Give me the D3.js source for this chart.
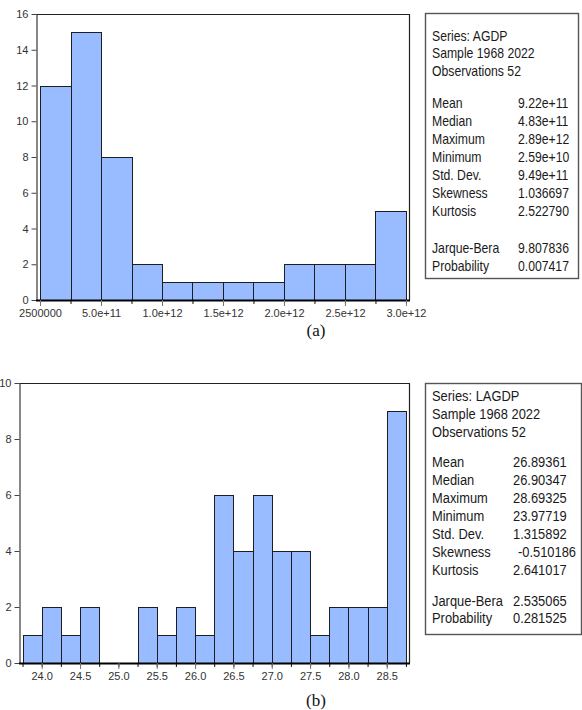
<!DOCTYPE html>
<html>
<head>
<meta charset="utf-8">
<script src="https://cdn.jsdelivr.net/npm/d3@7"></script>
<style>
  html, body { margin: 0; padding: 0; background: #fff; }
  svg { display: block; }
</style>
</head>
<body>
<svg id="chart" width="582" height="710"></svg>
<script>
// ---------- Panel (a): AGDP ----------
const aBinStarts = [0, 2.5e11, 5e11, 7.5e11, 1e12, 1.25e12, 1.5e12, 1.75e12, 2e12, 2.25e12, 2.5e12, 2.75e12];
const aBinWidth = 2.5e11;
const aCounts = [12, 15, 8, 2, 1, 1, 1, 1, 2, 2, 2, 5];
const aXTicks = [2500000, 5e11, 1e12, 1.5e12, 2e12, 2.5e12, 3e12];
const aXTickLabels = ["2500000", "5.0e+11", "1.0e+12", "1.5e+12", "2.0e+12", "2.5e+12", "3.0e+12"];
const aYTicks = [0, 2, 4, 6, 8, 10, 12, 14, 16];
const aHeader = ["Series: AGDP", "Sample 1968 2022", "Observations 52"];
const aStatLabels = ["Mean", "Median", "Maximum", "Minimum", "Std. Dev.", "Skewness", "Kurtosis"];
const aStatValues = ["9.22e+11", "4.83e+11", "2.89e+12", "2.59e+10", "9.49e+11", "1.036697", "2.522790"];
const aTestLabels = ["Jarque-Bera", "Probability"];
const aTestValues = ["9.807836", "0.007417"];

// ---------- Panel (b): LAGDP ----------
const bBinStarts = [23.75, 24.0, 24.25, 24.5, 24.75, 25.0, 25.25, 25.5, 25.75, 26.0,
                    26.25, 26.5, 26.75, 27.0, 27.25, 27.5, 27.75, 28.0, 28.25, 28.5];
const bBinWidth = 0.25;
const bCounts = [1, 2, 1, 2, 0, 0, 2, 1, 2, 1, 6, 4, 6, 4, 4, 1, 2, 2, 2, 9];
const bXTicks = [24.0, 24.5, 25.0, 25.5, 26.0, 26.5, 27.0, 27.5, 28.0, 28.5];
const bXTickLabels = ["24.0", "24.5", "25.0", "25.5", "26.0", "26.5", "27.0", "27.5", "28.0", "28.5"];
const bYTicks = [0, 2, 4, 6, 8, 10];
const bHeader = ["Series: LAGDP", "Sample 1968 2022", "Observations 52"];
const bStatLabels = ["Mean", "Median", "Maximum", "Minimum", "Std. Dev.", "Skewness", "Kurtosis"];
const bStatValues = ["26.89361", "26.90347", "28.69325", "23.97719", "1.315892", "-0.510186", "2.641017"];
const bTestLabels = ["Jarque-Bera", "Probability"];
const bTestValues = ["2.535065", "0.281525"];

const svg = d3.select("#chart");
const BAR_FILL = "#99bbff";
const AXIS_TEXT = "#333";

function drawPanel(cfg) {
  const g = svg.append("g");
  const x = d3.scaleLinear().domain(cfg.xDomain).range([cfg.left, cfg.right]);
  const y = d3.scaleLinear().domain(cfg.yDomain).range([cfg.bottom, cfg.top]);

  // bars
  const bars = cfg.binStarts.map((s, i) => ({ x0: s, x1: s + cfg.binWidth, n: cfg.counts[i] }))
                            .filter(d => d.n > 0);
  g.selectAll("rect.bar").data(bars).join("rect")
    .attr("class", "bar")
    .attr("x", d => Math.round(x(d.x0)) + 0.5)
    .attr("y", d => Math.round(y(d.n)) + 0.5)
    .attr("width", d => Math.round(x(d.x1)) - Math.round(x(d.x0)))
    .attr("height", d => Math.round(y(0)) - Math.round(y(d.n)))
    .attr("fill", BAR_FILL)
    .attr("stroke", "#1e1e1e")
    .attr("stroke-width", 1);

  // frame top & right
  g.append("path")
    .attr("d", `M${cfg.left + 0.5},${Math.round(cfg.top) + 0.5}H${cfg.right + 0.5}V${cfg.bottom}`)
    .attr("fill", "none").attr("stroke", "#222").attr("stroke-width", 1.2);

  // y axis
  const yAxis = g.append("g")
    .attr("transform", `translate(${cfg.left + 0.5},0)`)
    .call(d3.axisLeft(y).tickValues(cfg.yTicks).tickSize(5).tickPadding(3).tickSizeOuter(0));
  yAxis.select(".domain").attr("stroke", "#111");
  yAxis.selectAll(".tick line").attr("stroke", "#444");
  yAxis.selectAll("text").attr("fill", AXIS_TEXT)
    .style("font-family", "'Liberation Sans', Arial, sans-serif").style("font-size", "11px");

  // x minor ticks at each bin edge
  const edges = cfg.binStarts.concat([cfg.binStarts[cfg.binStarts.length - 1] + cfg.binWidth]);
  const xMinor = g.append("g")
    .attr("transform", `translate(0,${cfg.bottom})`)
    .call(d3.axisBottom(x).tickValues(edges).tickSize(4).tickFormat(""));
  xMinor.select(".domain").remove();
  xMinor.selectAll(".tick line").attr("stroke", "#111");

  // x major axis with labels
  const xAxis = g.append("g")
    .attr("transform", `translate(0,${cfg.bottom})`)
    .call(d3.axisBottom(x).tickValues(cfg.xTicks).tickSize(6).tickPadding(3).tickSizeOuter(0)
      .tickFormat((d, i) => cfg.xTickLabels[i]));
  xAxis.select(".domain").attr("stroke", "#000").attr("stroke-width", 2)
    .attr("d", `M${cfg.left},0.5H${cfg.right + 1}`);
  xAxis.selectAll(".tick line").attr("stroke", "#777");
  xAxis.selectAll("text").attr("fill", AXIS_TEXT)
    .style("font-family", "'Liberation Sans', Arial, sans-serif").style("font-size", "11px");

  // statistics box
  const b = cfg.box;
  g.append("rect")
    .attr("x", b.x + 0.5).attr("y", b.y + 0.5).attr("width", b.w).attr("height", b.h)
    .attr("fill", "#fff").attr("stroke", "#555").attr("stroke-width", 1.4);

  const lines = [];
  cfg.header.forEach((t, i) => lines.push({ label: t, value: null, yy: b.headerY[i] }));
  cfg.statLabels.forEach((t, i) => lines.push({ label: t, value: cfg.statValues[i], yy: b.statY0 + i * b.lineH }));
  cfg.testLabels.forEach((t, i) => lines.push({ label: t, value: cfg.testValues[i], yy: b.testY0 + i * b.lineH }));

  const font = "'Liberation Sans', Arial, sans-serif";
  lines.forEach(L => {
    g.append("text")
      .attr("transform", `translate(${b.textX},${L.yy}) scale(${b.sx},1)`)
      .style("font-family", font).style("font-size", "15px").attr("fill", "#1a1a1a")
      .text(L.label);
    if (L.value !== null) {
      const dx = L.value.startsWith("-") ? 5 : 0;
      g.append("text")
        .attr("transform", `translate(${b.valueX + dx},${L.yy}) scale(${b.sx},1)`)
        .style("font-family", font).style("font-size", "15px").attr("fill", "#1a1a1a")
        .text(L.value);
    }
  });

  // caption
  g.append("text")
    .attr("x", cfg.caption.x).attr("y", cfg.caption.y)
    .attr("text-anchor", "middle")
    .style("font-family", "'Liberation Serif', 'Times New Roman', serif")
    .style("font-size", "17px").attr("fill", "#111")
    .text(cfg.caption.text);
}

drawPanel({
  xDomain: [-3.3e10, 3.025e12], yDomain: [0, 16],
  left: 36, right: 409, top: 14, bottom: 300,
  binStarts: aBinStarts, binWidth: aBinWidth, counts: aCounts,
  xTicks: aXTicks, xTickLabels: aXTickLabels, yTicks: aYTicks,
  header: aHeader, statLabels: aStatLabels, statValues: aStatValues,
  testLabels: aTestLabels, testValues: aTestValues,
  box: { x: 425, y: 13, w: 153, h: 265, textX: 432, valueX: 518, sx: 0.815,
         headerY: [40.5, 58.3, 76.2], statY0: 107.5, lineH: 18.05, testY0: 253 },
  caption: { x: 316, y: 336, text: "(a)" }
});

drawPanel({
  xDomain: [23.704, 28.79], yDomain: [0, 10],
  left: 19, right: 409, top: 383, bottom: 663,
  binStarts: bBinStarts, binWidth: bBinWidth, counts: bCounts,
  xTicks: bXTicks, xTickLabels: bXTickLabels, yTicks: bYTicks,
  header: bHeader, statLabels: bStatLabels, statValues: bStatValues,
  testLabels: bTestLabels, testValues: bTestValues,
  box: { x: 425, y: 383, w: 156, h: 251, textX: 432, valueX: 513, sx: 0.86,
         headerY: [400.5, 418.8, 437.2], statY0: 467.2, lineH: 17.95, testY0: 605.5 },
  caption: { x: 316, y: 706, text: "(b)" }
});
</script>
</body>
</html>
